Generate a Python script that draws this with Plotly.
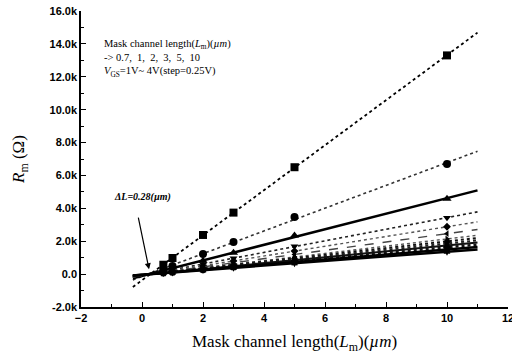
import numpy as np
import plotly.graph_objects as go

# Mask channel lengths (um)
lengths = [0.7, 1, 2, 3, 5, 10]

# Rm (ohm) for VGS = 1V ... 4V, step 0.25V (13 curves)
rm_v100 = [570, 980, 2380, 3740, 6500, 13300]
rm_v125 = [290, 500, 1230, 1960, 3480, 6700]
rm_v150 = [200, 340, 820, 1300, 2350, 4580]
rm_v175 = [150, 260, 610, 970, 1700, 3420]
rm_v200 = [120, 210, 510, 800, 1400, 2880]
rm_v225 = [110, 180, 440, 690, 1190, 2460]
rm_v250 = [95, 160, 380, 600, 1040, 2140]
rm_v275 = [86, 150, 350, 560, 970, 1990]
rm_v300 = [80, 140, 330, 520, 900, 1860]
rm_v325 = [75, 130, 310, 490, 840, 1740]
rm_v350 = [70, 120, 290, 460, 790, 1630]
rm_v375 = [65, 110, 260, 420, 730, 1500]
rm_v400 = [59, 100, 240, 380, 660, 1360]

series = [rm_v100, rm_v125, rm_v150, rm_v175, rm_v200, rm_v225, rm_v250,
          rm_v275, rm_v300, rm_v325, rm_v350, rm_v375, rm_v400]
vgs_labels = ["1.00V", "1.25V", "1.50V", "1.75V", "2.00V", "2.25V", "2.50V",
              "2.75V", "3.00V", "3.25V", "3.50V", "3.75V", "4.00V"]

y_tickvals = [-2000, 0, 2000, 4000, 6000, 8000, 10000, 12000, 14000, 16000]
y_ticktext = ["-2.0k", "0.0", "2.0k", "4.0k", "6.0k", "8.0k", "10.0k", "12.0k", "14.0k", "16.0k"]
x_tickvals = [-2, 0, 2, 4, 6, 8, 10, 12]

fit_range = [-0.3, 11]

symbols = ["square", "circle", "triangle-up", "triangle-down", "diamond",
           "triangle-left", "triangle-right", "hexagon", "star", "pentagon",
           "cross", "x", "hexagram"]
dashes = ["dot", "dot", "solid", "dot", "dot", "dash", "dot", "dot",
          "dot", "solid", "dot", "solid", "solid"]
widths = [1.8, 1.6, 2.5, 1.6, 1.4, 1.4, 1.4, 2, 2, 2, 2.5, 2.5, 2.5]
colors = ["#000", "#333", "#000", "#222", "#555", "#444", "#555", "#111",
          "#222", "#111", "#111", "#000", "#000"]
msizes = [8, 8, 8, 7, 6, 6, 6, 6, 6, 6, 6, 6, 6]

fig = go.Figure()
xs = np.array(lengths)
for i, ys in enumerate(series):
    k, b = np.polyfit(xs, np.array(ys, dtype=float), 1)
    fx = np.array(fit_range)
    fig.add_trace(go.Scatter(x=fx, y=k * fx + b, mode="lines",
                             line=dict(color=colors[i], width=widths[i], dash=dashes[i]),
                             showlegend=False, hoverinfo="skip"))
    fig.add_trace(go.Scatter(x=lengths, y=ys, mode="markers", name=vgs_labels[i],
                             marker=dict(symbol=symbols[i], size=msizes[i], color="#000"),
                             showlegend=False))

axis_common = dict(showgrid=False, zeroline=False, showline=True, linecolor="black",
                   linewidth=1.5, ticks="inside", ticklen=5, tickwidth=1.2, tickcolor="black",
                   automargin=False, ticklabeloverflow="allow",
                   tickfont=dict(family="Liberation Sans, Arial", size=11, color="black",
                                 weight="bold"))
fig.update_xaxes(range=[-2, 12], tickvals=x_tickvals,
                 minor=dict(ticks="inside", ticklen=3, tickwidth=1, tickcolor="black", dtick=1,
                            tick0=0),
                 **axis_common)
fig.update_yaxes(range=[-2000, 16000], tickvals=y_tickvals, ticktext=y_ticktext,
                 minor=dict(ticks="inside", ticklen=3, tickwidth=1, tickcolor="black", dtick=1000,
                            tick0=0),
                 **axis_common)

serif = "Liberation Serif, Times New Roman"
fig.add_annotation(xref="paper", yref="paper", x=0.5, y=-0.122, yanchor="middle",
                   xanchor="center", showarrow=False,
                   text="Mask channel length(<i>L</i><sub>m</sub>)(<i>µm</i>)",
                   font=dict(family=serif, size=17, color="black"))
fig.add_annotation(xref="paper", yref="paper", x=-0.143, y=0.5, xanchor="center",
                   yanchor="middle", showarrow=False, textangle=-90,
                   text="<i>R</i><sub>m</sub> (Ω)",
                   font=dict(family=serif, size=17, color="black"))
fig.add_annotation(xref="paper", yref="paper", x=0.05, y=0.915, xanchor="left",
                   yanchor="top", showarrow=False, align="left",
                   text="Mask channel length(<i>L</i><sub>m</sub>)(<i>µm</i>)<br>"
                        "-> 0.7,  1,  2,  3,  5,  10<br>"
                        "<i>V</i><sub>GS</sub>=1V~ 4V(step=0.25V)",
                   font=dict(family=serif, size=10.5, color="black"))
fig.add_annotation(x=0.23, y=300, ax=-11, ay=-53, showarrow=True, arrowhead=2,
                   arrowsize=1, arrowwidth=1.2, arrowcolor="black", text="")
fig.add_annotation(x=-1.0, y=4700, xanchor="left", yanchor="middle", showarrow=False,
                   text="<b><i>ΔL=0.28(µm)</i></b>",
                   font=dict(family=serif, size=10, color="black"))

fig.update_layout(width=512, height=356, margin=dict(l=81, r=4, t=11, b=49),
                  plot_bgcolor="white", paper_bgcolor="white")
# remove the default 8px body margin of the page so the figure fills the window
fig.write_html("out.html", config={"displayModeBar": False},
               post_script="document.body.style.margin='0px';")
